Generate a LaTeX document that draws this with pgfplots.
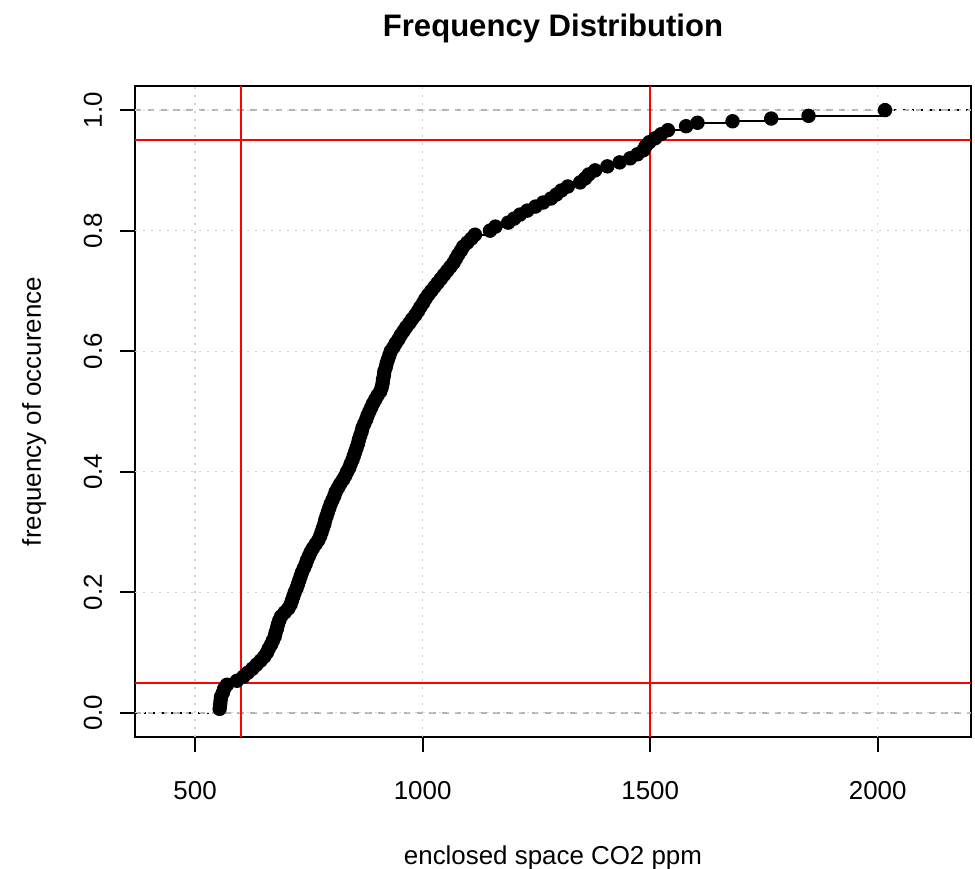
\documentclass[border=0pt]{standalone}
\usepackage{pgfplots}
\pgfplotsset{compat=1.18}
\usepackage{fontspec}
\setmainfont{Liberation Sans}
\definecolor{gray70}{HTML}{B3B3B3}
\definecolor{lgray}{HTML}{D3D3D3}
\begin{document}
\begin{tikzpicture}
\useasboundingbox (-67.5bp,-66bp) rectangle (420bp,368.5bp);
\begin{axis}[
  at={(0,0)}, anchor=south west,
  scale only axis, width=418bp, height=325.5bp,
  xmin=368, xmax=2205, ymin=-0.04, ymax=1.04,
  axis line style={line width=1bp},
  tick style={line width=1bp, black},
  tick align=outside, major tick length=7.5bp,
  tick pos=left,
  xtick={500,1000,1500,2000}, ytick={0,0.2,0.4,0.6,0.8,1.0},
  xticklabels={500,1000,1500,2000},
  yticklabels={0.0,0.2,0.4,0.6,0.8,1.0},
  /pgf/number format/assume math mode=true,
  ticklabel style={font=\fontsize{13}{15}\selectfont},
  xticklabel style={anchor=base, yshift=-23.5bp},
  yticklabel style={xshift=-9bp, rotate=90, anchor=base},
  title={Frequency Distribution},
  title style={at={(axis description cs:0.5,1)}, anchor=base, yshift=19bp, font=\bfseries\fontsize{15.6}{18}\selectfont},
  xlabel={enclosed space CO2 ppm},
  xlabel style={at={(axis description cs:0.5,0)}, anchor=base, yshift=-63.5bp, font=\fontsize{13}{15}\selectfont},
  ylabel={frequency of occurence},
  every axis y label/.style={at={(axis description cs:0,0.5)}, xshift=-47bp, rotate=90, anchor=base, font=\fontsize{13}{15}\selectfont},
]
% 0 and 1 reference lines
\addplot[gray70, line width=0.8bp, dash pattern=on 3.2bp off 3.2bp] coordinates {(368,0) (2205,0)};
\addplot[gray70, line width=0.8bp, dash pattern=on 3.2bp off 3.2bp] coordinates {(368,1) (2205,1)};
% extensions
\addplot[black, line width=1bp, dash pattern=on 1.2bp off 3.3bp] coordinates {(368,0) (554,0)};
\addplot[black, line width=1bp, dash pattern=on 1.2bp off 3.3bp] coordinates {(2016,1) (2205,1)};
% ecdf
\addplot[black, line width=1bp, jump mark left, mark=*, mark size=3.1bp, mark options={solid, fill=black, draw=black}] table {
x y
554 0.0067
555 0.0133
556 0.0200
557 0.0267
561 0.0333
564 0.0400
570 0.0467
592 0.0533
606 0.0600
616 0.0667
626 0.0733
635 0.0800
644 0.0867
652 0.0933
658 0.1000
662 0.1067
667 0.1133
671 0.1200
675 0.1267
677 0.1333
680 0.1400
682 0.1467
685 0.1533
689 0.1600
697 0.1667
705 0.1733
710 0.1800
713 0.1867
716 0.1933
719 0.2000
723 0.2067
726 0.2133
729 0.2200
732 0.2267
735 0.2333
739 0.2400
743 0.2467
746 0.2533
750 0.2600
754 0.2667
759 0.2733
765 0.2800
771 0.2867
775 0.2933
778 0.3000
781 0.3067
784 0.3133
786 0.3200
789 0.3267
792 0.3333
795 0.3400
798 0.3467
802 0.3533
806 0.3600
809 0.3667
814 0.3733
819 0.3800
825 0.3867
830 0.3933
834 0.4000
839 0.4067
842 0.4133
846 0.4200
849 0.4267
852 0.4333
855 0.4400
858 0.4467
860 0.4533
863 0.4600
866 0.4667
868 0.4733
872 0.4800
876 0.4867
879 0.4933
883 0.5000
887 0.5067
891 0.5133
896 0.5200
901 0.5267
907 0.5333
910 0.5400
912 0.5467
913 0.5533
915 0.5600
916 0.5667
919 0.5733
921 0.5800
924 0.5867
927 0.5933
930 0.6000
936 0.6067
941 0.6133
947 0.6200
952 0.6267
958 0.6333
964 0.6400
971 0.6467
977 0.6533
984 0.6600
990 0.6667
995 0.6733
1001 0.6800
1006 0.6867
1012 0.6933
1019 0.7000
1026 0.7067
1033 0.7133
1040 0.7200
1047 0.7267
1054 0.7333
1061 0.7400
1068 0.7467
1073 0.7533
1078 0.7600
1084 0.7667
1089 0.7733
1098 0.7800
1107 0.7867
1115 0.7933
1148 0.8000
1160 0.8067
1188 0.8133
1201 0.8200
1214 0.8267
1230 0.8333
1248 0.8400
1265 0.8467
1282 0.8533
1294 0.8600
1305 0.8667
1319 0.8733
1346 0.8800
1357 0.8867
1365 0.8933
1379 0.9000
1406 0.9067
1433 0.9133
1456 0.9200
1472 0.9267
1485 0.9333
1490 0.9400
1498 0.9467
1511 0.9533
1524 0.9600
1539 0.9667
1579 0.9733
1604 0.9790
1681 0.9815
1766 0.9860
1848 0.9905
2016 1.0000
};
% grid
\addplot[lgray, line width=0.6bp, dash pattern=on 1bp off 3bp] coordinates {(500,-0.04) (500,1.04)};
\addplot[lgray, line width=0.6bp, dash pattern=on 1bp off 3bp] coordinates {(1000,-0.04) (1000,1.04)};
\addplot[lgray, line width=0.6bp, dash pattern=on 1bp off 3bp] coordinates {(1500,-0.04) (1500,1.04)};
\addplot[lgray, line width=0.6bp, dash pattern=on 1bp off 3bp] coordinates {(2000,-0.04) (2000,1.04)};
\addplot[lgray, line width=0.6bp, dash pattern=on 1bp off 3bp] coordinates {(368,0) (2205,0)};
\addplot[lgray, line width=0.6bp, dash pattern=on 1bp off 3bp] coordinates {(368,0.2) (2205,0.2)};
\addplot[lgray, line width=0.6bp, dash pattern=on 1bp off 3bp] coordinates {(368,0.4) (2205,0.4)};
\addplot[lgray, line width=0.6bp, dash pattern=on 1bp off 3bp] coordinates {(368,0.6) (2205,0.6)};
\addplot[lgray, line width=0.6bp, dash pattern=on 1bp off 3bp] coordinates {(368,0.8) (2205,0.8)};
\addplot[lgray, line width=0.6bp, dash pattern=on 1bp off 3bp] coordinates {(368,1) (2205,1)};
% red reference lines
\addplot[red, line width=1bp] coordinates {(600,-0.04) (600,1.04)};
\addplot[red, line width=1bp] coordinates {(1500,-0.04) (1500,1.04)};
\addplot[red, line width=1bp] coordinates {(368,0.05) (2205,0.05)};
\addplot[red, line width=1bp] coordinates {(368,0.95) (2205,0.95)};
\end{axis}
\end{tikzpicture}
\end{document}
